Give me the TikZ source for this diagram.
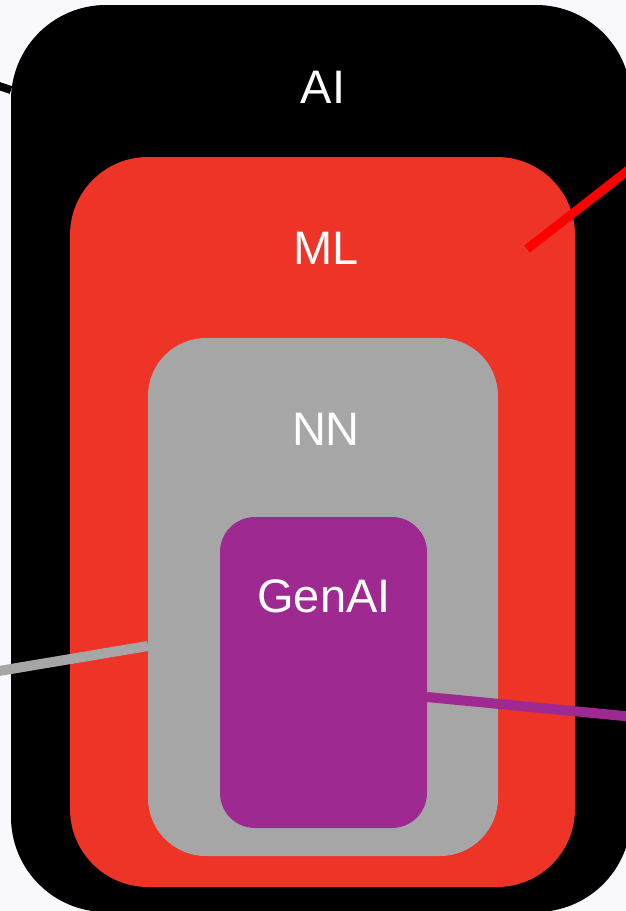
\documentclass[tikz,border=0pt]{standalone}
\usepackage{fontspec}
\setmainfont{Liberation Sans}
\definecolor{bgc}{RGB}{249,248,252}
\definecolor{mlred}{RGB}{238,51,39}
\definecolor{nngray}{RGB}{166,166,166}
\definecolor{genpurple}{RGB}{158,42,145}
\definecolor{linered}{RGB}{255,0,0}
\begin{document}
\begin{tikzpicture}[x=1pt,y=-1pt,
  box/.style={rectangle,inner sep=0pt,outer sep=0pt},
  lbl/.style={text=white,font=\fontsize{47}{47}\selectfont,inner sep=0pt,anchor=base},
  conn/.style={line cap=butt}]
\useasboundingbox (0,0) rectangle (626,911);
\fill[bgc] (0,0) rectangle (626,911);
\begin{scope}
\clip (0,0) rectangle (626,911);
\node[box,fill=black,minimum width=620pt,minimum height=907pt,rounded corners=95pt] (ai) at (321,458.5) {};
\node[box,fill=mlred,minimum width=505pt,minimum height=730pt,rounded corners=78pt] (ml) at (322.5,522) {};
\node[box,fill=nngray,minimum width=350pt,minimum height=518pt,rounded corners=58pt] (nn) at (323,597) {};
\node[box,fill=genpurple,minimum width=207pt,minimum height=311pt,rounded corners=35pt] (gen) at (323.5,672.5) {};
\node[lbl] (tai) at (323,103) {AI};
\node[lbl] (tml) at (326,264) {ML};
\node[lbl] (tnn) at (326,445) {NN};
\node[lbl] (tgen) at (324,612) {GenAI};
\coordinate (aiout) at (-4,85);
\coordinate (aiin) at (11,90);
\coordinate (mlin) at (527,249);
\coordinate (mlout) at (640,161);
\coordinate (nnout) at (-4,671.5);
\coordinate (nnin) at (148,646);
\coordinate (genin) at (427,697);
\coordinate (genout) at (640,717.5);
\draw[conn,black,line width=8pt] (aiout) -- (aiin);
\draw[conn,linered,line width=9pt] (mlin) -- (mlout);
\draw[conn,nngray,line width=10pt] (nnout) -- (nnin);
\draw[conn,genpurple,line width=10pt] (genin) -- (genout);
\end{scope}
\end{tikzpicture}
\end{document}
